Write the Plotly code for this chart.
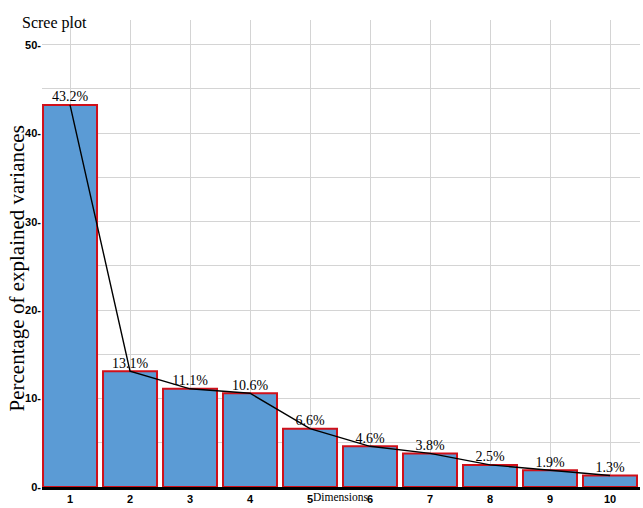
import plotly.graph_objects as go

dimensions = [1, 2, 3, 4, 5, 6, 7, 8, 9, 10]
variance = [43.2, 13.1, 11.1, 10.6, 6.6, 4.6, 3.8, 2.5, 1.9, 1.3]
labels = [f"{v}%" for v in variance]
y_ticks = [0, 5, 10, 15, 20, 25, 30, 35, 40, 45, 50]
y_ticktext = [f"{t}-" if t % 10 == 0 else "" for t in y_ticks]

serif = "Liberation Serif, Times New Roman, serif"
tick_font = dict(family="Liberation Sans Narrow, Arial", size=11, color="black", weight="bold")

fig = go.Figure()
fig.add_trace(
    go.Bar(
        x=dimensions,
        y=variance,
        width=0.9,
        marker=dict(color="#5b9bd5", line=dict(color="#d0101a", width=2)),
        showlegend=False,
    )
)
fig.add_trace(
    go.Scatter(
        x=dimensions,
        y=variance,
        mode="lines+text",
        text=labels,
        textposition="top center",
        textfont=dict(family=serif, size=14, color="black"),
        line=dict(color="black", width=1.4),
        showlegend=False,
    )
)

fig.update_layout(
    width=643,
    height=508,
    margin=dict(l=42, r=3, t=20, b=18),
    plot_bgcolor="white",
    paper_bgcolor="white",
    title=dict(
        text="Scree plot",
        font=dict(family=serif, size=16, color="black"),
        xref="container", yref="container",
        x=22 / 643, y=1 - 22 / 508, xanchor="left", yanchor="middle",
    ),
    xaxis=dict(
        range=[0.533, 10.5],
        tickvals=dimensions,
        ticktext=[str(d) for d in dimensions],
        tickfont=tick_font,
        showgrid=True,
        gridcolor="#d4d4d4",
        showline=True,
        linecolor="black",
        linewidth=3,
        ticks="",
    ),
    yaxis=dict(
        range=[0, 52.8],
        tickvals=y_ticks,
        ticktext=y_ticktext,
        tickfont=tick_font,
        showgrid=True,
        gridcolor="#d4d4d4",
        zeroline=False,
        ticks="",
    ),
    annotations=[
        dict(
            text="Percentage of explained variances",
            textangle=-90,
            xref="paper", yref="paper",
            x=(17 - 42) / 598, y=0.468,
            xanchor="center", yanchor="middle",
            showarrow=False,
            font=dict(family=serif, size=21, color="black"),
        ),
        dict(
            text="Dimensions",
            xref="paper", yref="paper",
            x=(340 - 42) / 598, y=-0.022,
            xanchor="center", yanchor="middle",
            showarrow=False,
            font=dict(family=serif, size=11.5, color="black"),
        ),
    ],
)

fig.write_html(
    "out.html",
    config={"displayModeBar": False},
    post_script="document.body.style.margin='0';",
)
